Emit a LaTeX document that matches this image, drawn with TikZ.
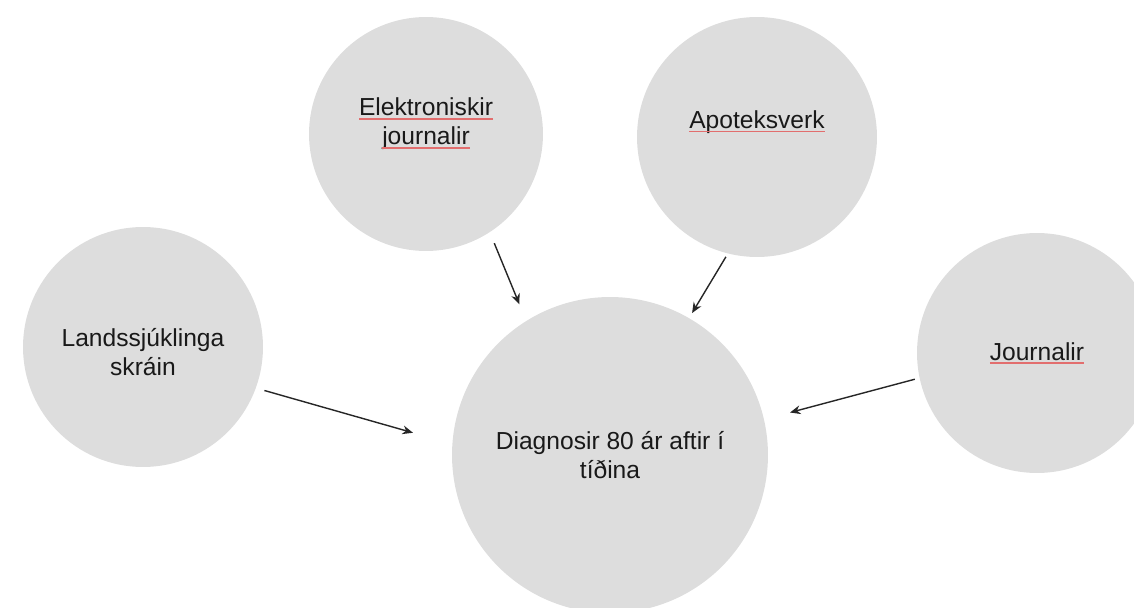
\documentclass[tikz,border=0pt]{standalone}
\usepackage{fontspec}
\setmainfont{Liberation Sans}
\usetikzlibrary{arrows.meta}
\definecolor{bubblegray}{RGB}{221,221,221}
\definecolor{spellred}{RGB}{226,110,110}
\newsavebox{\spellbox}
\newcommand{\spell}[1]{\sbox{\spellbox}{#1}\usebox{\spellbox}\llap{\textcolor{spellred}{\rule[-2.1pt]{\wd\spellbox}{0.8pt}}}}
\tikzset{
    bubble/.style={circle,fill=bubblegray,draw=none,outer sep=0pt,inner sep=0pt,
        align=center,text=black!90,font=\fontsize{14}{16.5}\selectfont},
    feed/.style={-{Stealth[length=6pt,width=5pt]},line width=0.8pt,black!85}
}
\begin{document}
\begin{tikzpicture}[x=0.02cm,y=-0.02cm]
                \clip (0,0) rectangle (1134,608);
                \node [bubble,minimum size=6.32cm] (diag) at (610,455) {Diagnosir 80 ár aftir í\\tíðina};
                \node [bubble,minimum size=4.8cm,text height=1.16cm] (land) at (143,347) {Landssjúklinga\\skráin};
                \node [bubble,minimum size=4.68cm,text depth=0.5cm] (elek) at (426,134) {\spell{Elektroniskir}\\\spell{journalir}};
                \node [bubble,minimum size=4.8cm,text depth=0.7cm] (apot) at (757,137) {\spell{Apoteksverk}};
                \node [bubble,minimum size=4.8cm] (jour) at (1037,353) {\spell{Journalir}};
                \draw [feed,shorten <=0.18cm,shorten >=0.82cm] (land.-20) -- (diag.176);
                \draw [feed,shorten <=0.24cm,shorten >=0.36cm] (elek.-57) -- (diag.122);
                \draw [feed,shorten <=0.08cm,shorten >=0.12cm] (apot.-104) -- (diag.60);
                \draw [feed,shorten <=0.1cm,shorten >=0.54cm] (jour.-168) -- (diag.13);
\end{tikzpicture}
\end{document}
